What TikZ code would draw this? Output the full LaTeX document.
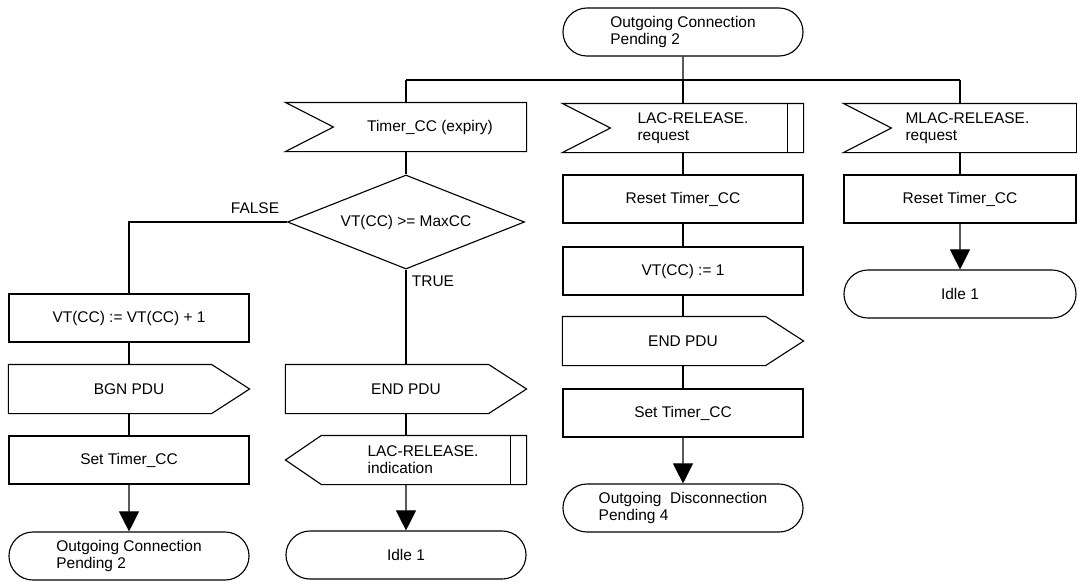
\documentclass[tikz,border=0pt]{standalone}
\usepackage{fontspec}
\setmainfont{Liberation Sans}
\usetikzlibrary{arrows.meta}
\usetikzlibrary{shapes.geometric}
\usetikzlibrary{shapes.misc}

\tikzset{
	every node/.style={font=\fontsize{11}{12}\selectfont},
	sdl/.style={rectangle, minimum width=6cm, minimum height=1.2cm, inner sep=0pt},
	task/.style={sdl, draw},
	state/.style={rounded rectangle, draw, minimum width=6cm, minimum height=1.2cm, inner sep=0pt, align=left},
	flow/.style={-{Triangle[length=0.5cm, width=0.5cm]}},
}
\newcommand\drawinput[1]{\draw (#1.north west) -- (#1.north east) -- (#1.south east) -- (#1.south west) -- ([xshift=1.2cm]#1.west) -- cycle;}
\newcommand\drawoutput[1]{\draw (#1.north west) -- ([xshift=-0.95cm]#1.north east) -- (#1.east) -- ([xshift=-0.95cm]#1.south east) -- (#1.south west) -- cycle;}
\newcommand\drawoutleft[1]{\draw ([xshift=0.9cm]#1.north west) -- (#1.north east) -- (#1.south east) -- ([xshift=0.9cm]#1.south west) -- (#1.west) -- cycle;}
\newcommand\drawbar[1]{\draw ([xshift=-0.4cm]#1.north east) -- ([xshift=-0.4cm]#1.south east);}

\begin{document}
\begin{tikzpicture}[x=0.025cm, y=-0.025cm, line width=0.8pt]
		\useasboundingbox (0,0) rectangle (1077,581);
		\node[state] (s0) at (683,32) {Outgoing Connection\\Pending 2};
		\coordinate (busL) at (406,80);
		\coordinate (busM) at (683,80);
		\coordinate (busR) at (960,80);
		\draw (s0) -- (busM);
		\draw (busL) -- (busR);

		\node[sdl] (tin) at (406,127) {};
		\drawinput{tin}
		\node (tin-t) at (430,127) {Timer\_CC (expiry)};
		\node[diamond, draw, aspect=2.5, minimum width=5.925cm, minimum height=2.35cm, inner sep=0pt] (dec) at (406,222) {VT(CC) >= MaxCC};
		\node (lfalse) at (255,208) {FALSE};
		\node (ltrue) at (433,281) {TRUE};
		\node[sdl] (ep1) at (406,389) {END PDU};
		\drawoutput{ep1}
		\node[sdl] (ind) at (406,460) {};
		\drawoutleft{ind}
		\drawbar{ind}
		\node[right, align=left, inner sep=0pt] (ind-t) at (367,460) {LAC-RELEASE.\\indication};
		\node[state] (idle1) at (406,555) {Idle 1};
		\draw (busL) -- (tin);
		\draw (tin) -- (dec);
		\draw (dec) -- (ep1);
		\draw (ep1) -- (ind);
		\draw[flow] (ind) -- (idle1);

		\node[task] (vt1) at (129,318) {VT(CC) := VT(CC) + 1};
		\node[sdl] (bgn) at (129,389) {BGN PDU};
		\drawoutput{bgn}
		\node[task] (st1) at (129,460) {Set Timer\_CC};
		\node[state] (s1) at (129,556) {Outgoing Connection\\Pending 2};
		\draw (dec.west) -| (vt1);
		\draw (vt1) -- (bgn);
		\draw (bgn) -- (st1);
		\draw[flow] (st1) -- (s1);

		\node[sdl] (lreq) at (683,128) {};
		\drawinput{lreq}
		\drawbar{lreq}
		\node[right, align=left, inner sep=0pt] (lreq-t) at (637,128) {LAC-RELEASE.\\request};
		\node[task] (rst1) at (683,199) {Reset Timer\_CC};
		\node[task] (vt2) at (683,271) {VT(CC) := 1};
		\node[sdl] (ep2) at (683,341) {END PDU};
		\drawoutput{ep2}
		\node[task] (st2) at (683,413) {Set Timer\_CC};
		\node[state] (s2) at (683,508) {Outgoing\ \ Disconnection\\Pending 4};
		\draw (busM) -- (lreq);
		\draw (lreq) -- (rst1);
		\draw (rst1) -- (vt2);
		\draw (vt2) -- (ep2);
		\draw (ep2) -- (st2);
		\draw[flow] (st2) -- (s2);

		\node[sdl, minimum width=5.8cm] (mreq) at (960,128) {};
		\drawinput{mreq}
		\node[right, align=left, inner sep=0pt] (mreq-t) at (905,128) {MLAC-RELEASE.\\request};
		\node[task, minimum width=5.8cm] (rst2) at (960,199) {Reset Timer\_CC};
		\node[state, minimum width=5.8cm] (idle2) at (960,294) {Idle 1};
		\draw (busR) -- (mreq);
		\draw (mreq) -- (rst2);
		\draw[flow] (rst2) -- (idle2);
	\end{tikzpicture}
\end{document}
